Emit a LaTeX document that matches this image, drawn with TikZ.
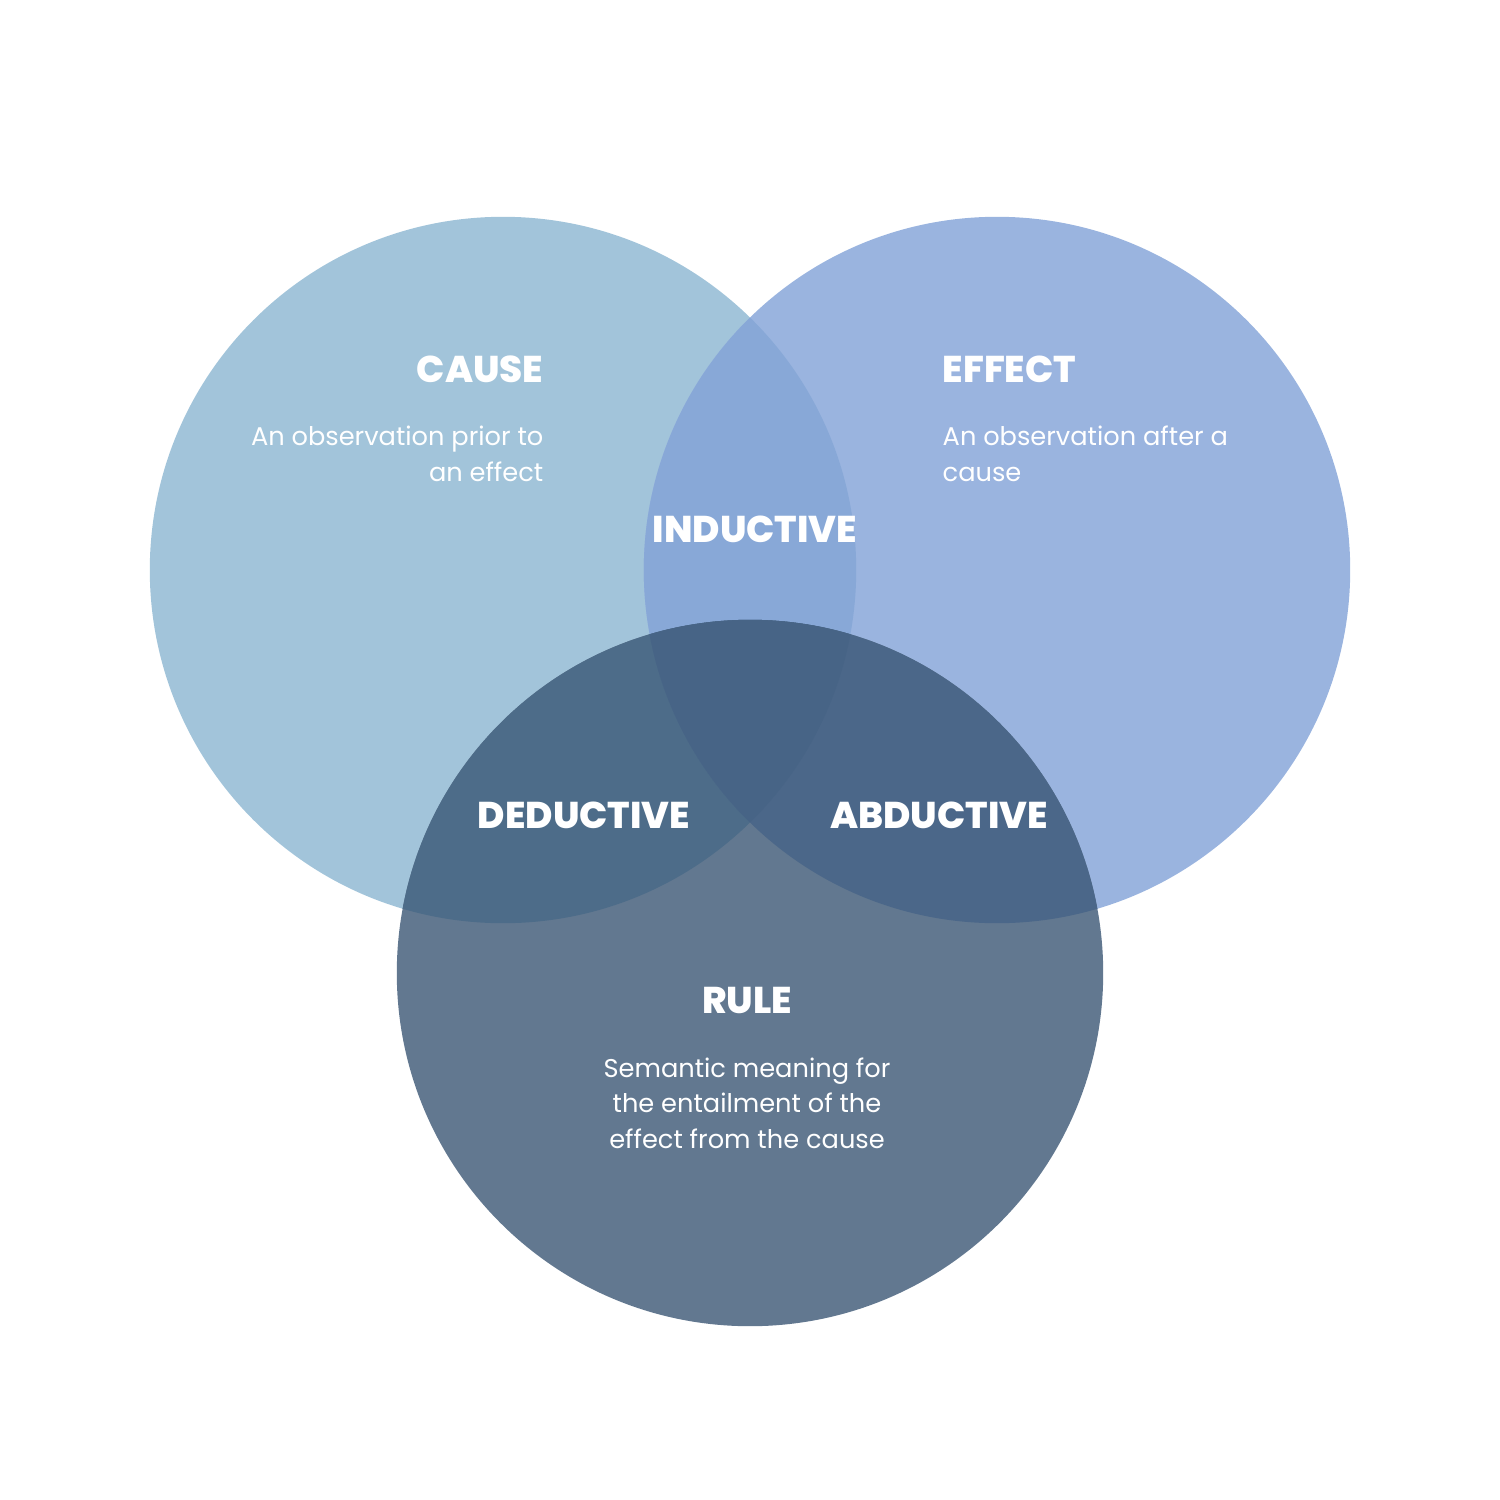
\documentclass[tikz,border=0pt]{standalone}
\usepackage{fontspec}
\setmainfont{Poppins}[BoldFont=* ExtraBold]
\usepackage{xcolor}
\usepackage{tikz}
\usetikzlibrary{positioning,calc}
\definecolor{causeblue}{HTML}{A2C4DA}
\definecolor{effectblue}{HTML}{9AB4DF}
\definecolor{ruleblue}{HTML}{627890}
\definecolor{indblue}{HTML}{88A8D7}
\definecolor{dedblue}{HTML}{4D6C89}
\definecolor{abdblue}{HTML}{4B6789}
\definecolor{midblue}{HTML}{476486}
\tikzset{
  head/.style={text=white, inner sep=0pt, font=\fontsize{10.6}{13}\selectfont\bfseries},
  desc/.style={text=white, inner sep=0pt, font=\fontsize{7.3}{9.96}\selectfont},
  ring/.style={radius=3.53cm}
}

\begin{document}
\begin{tikzpicture}[x=0.01cm, y=-0.01cm]
        \useasboundingbox (0,0) rectangle (1500,1500);
        \coordinate (cause) at (503,570);
        \coordinate (effect) at (997,570);
        \coordinate (rule) at (750,973);
        % circles
        \fill[causeblue] (cause) circle[ring];
        \fill[effectblue] (effect) circle[ring];
        \fill[ruleblue] (rule) circle[ring];
        % overlaps
        \begin{scope}
          \clip (cause) circle[ring];
          \fill[indblue] (effect) circle[ring];
          \fill[dedblue] (rule) circle[ring];
        \end{scope}
        \begin{scope}
          \clip (effect) circle[ring];
          \fill[abdblue] (rule) circle[ring];
          \clip (cause) circle[ring];
          \fill[midblue] (rule) circle[ring];
        \end{scope}
        % labels
        \node[head, anchor=base east] (causehd) at (544,382) {CAUSE};
        \node[desc, anchor=base east, align=right] (causetx) at (544,481)
          {An observation prior to\\an effect};
        \node[head, anchor=base west] (effecthd) at (942,382) {EFFECT};
        \node[desc, anchor=base west, align=left] (effecttx) at (942,481)
          {An observation after a\\cause};
        \node[head, anchor=base] (ind) at (755,542) {INDUCTIVE};
        \node[head, anchor=base] (ded) at (584,828) {DEDUCTIVE};
        \node[head, anchor=base] (abd) at (939,828) {ABDUCTIVE};
        \node[head, anchor=base] (rulehd) at (747,1013) {RULE};
        \node[desc, anchor=base, align=center] (ruletx) at (747,1148)
          {Semantic meaning for\\the entailment of the\\effect from the cause};
      \end{tikzpicture}
\end{document}
